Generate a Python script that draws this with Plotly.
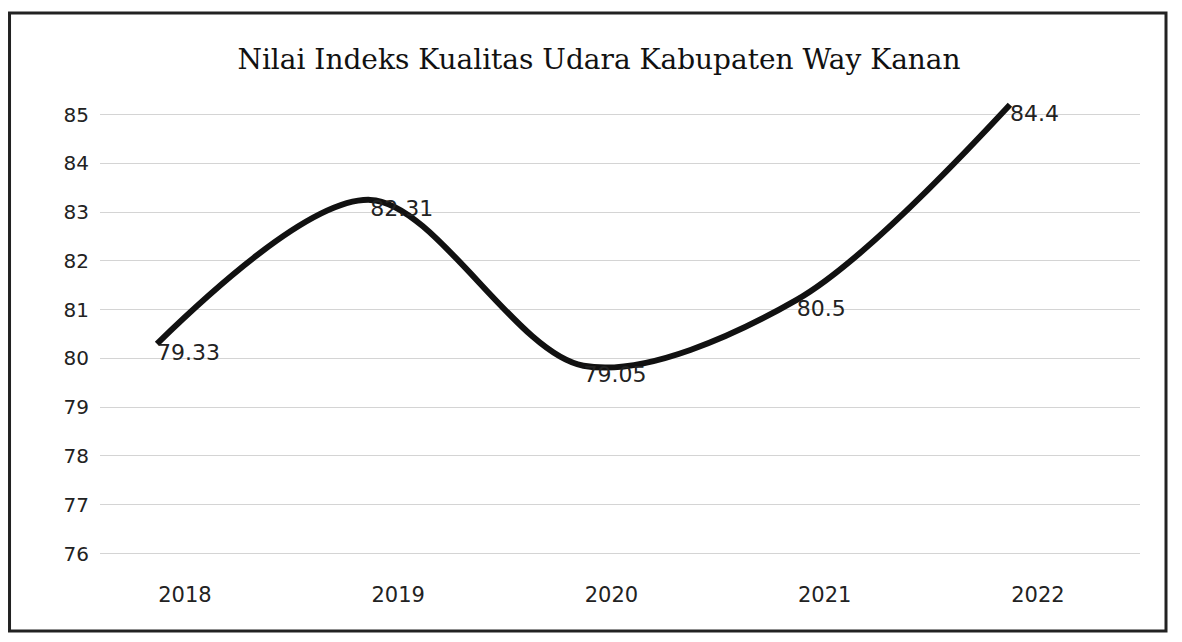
import plotly.graph_objects as go

# Data
tahun = ["2018", "2019", "2020", "2021", "2022"]
posisi_garis = [80.3, 83.25, 79.85, 81.2, 85.2]
label_nilai = ["79.33", "82.31", "79.05", "80.5", "84.4"]
tick_y = [76, 77, 78, 79, 80, 81, 82, 83, 84, 85]

fig = go.Figure()

fig.add_trace(
    go.Scatter(
        x=tahun,
        y=posisi_garis,
        mode="lines+text",
        line=dict(color="#111111", width=6, shape="spline", smoothing=0.9),
        text=label_nilai,
        textposition="bottom right",
        textfont=dict(family="DejaVu Sans", size=22, color="#222222"),
        cliponaxis=False,
        showlegend=False,
    )
)

# Bingkai grafik
fig.add_shape(
    type="rect",
    xref="paper",
    yref="paper",
    x0=-0.087,
    x1=1.025,
    y0=-0.165,
    y1=1.178,
    line=dict(color="#222222", width=3),
    layer="below",
)

fig.update_layout(
    title=dict(
        text="Nilai Indeks Kualitas Udara Kabupaten Way Kanan",
        x=0.5,
        xanchor="center",
        y=0.92,
        yanchor="middle",
        font=dict(family="DejaVu Serif", size=28, color="#111111"),
    ),
    width=1182,
    height=642,
    margin=dict(l=92, r=50, t=87, b=95),
    paper_bgcolor="white",
    plot_bgcolor="white",
    xaxis=dict(
        type="category",
        range=[-0.267, 4.61],
        showgrid=False,
        showline=False,
        ticks="",
        ticklabelstandoff=25,
        ticklabelshift=28,
        tickfont=dict(family="DejaVu Sans", size=21, color="#222222"),
    ),
    yaxis=dict(
        range=[75.97, 85.4],
        tickvals=tick_y,
        showgrid=True,
        gridcolor="#d4d4d4",
        gridwidth=1,
        zeroline=False,
        showline=False,
        ticklabelstandoff=10,
        tickfont=dict(family="DejaVu Sans", size=20, color="#222222"),
    ),
)

fig.write_html("out.html")
